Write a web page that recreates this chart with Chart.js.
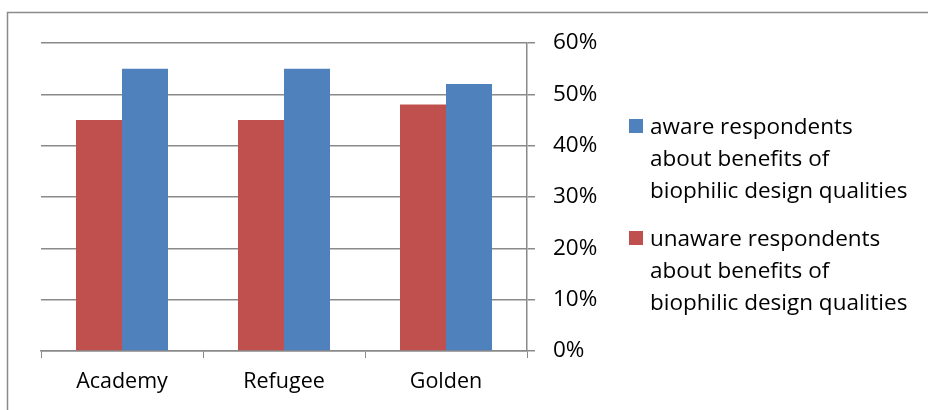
<!DOCTYPE html>
<html>
<head>
<meta charset="utf-8">
<script src="https://cdn.jsdelivr.net/npm/chart.js@4/dist/chart.umd.min.js"></script>
<style>
    html, body { margin: 0; padding: 0; background: #fff; }
    #wrap { width: 928px; height: 410px; }
</style>
</head>
<body>
<div id="wrap"><canvas id="awareChart" width="928" height="410"></canvas></div>
<script>
// DATA
const categories = ["Academy", "Refugee", "Golden"];
const unawareValues = [45, 45, 48];
const awareValues = [55, 55, 52];
const yTickValues = [0, 10, 20, 30, 40, 50, 60];

const awareLabel = ["aware respondents", "about benefits of", "biophilic design qualities"];
const unawareLabel = ["unaware respondents", "about benefits of", "biophilic design qualities"];

const FONT = "'Open Sans', sans-serif";

// outer frame, like the office chart box
const framePlugin = {
    id: "frame",
    beforeDraw(chart) {
        let ctx = chart.ctx;
        ctx.save();
        ctx.strokeStyle = "#8a8a8a";
        ctx.lineWidth = 1.5;
        ctx.strokeRect(7.5, 12.5, 1000, 1000);
        ctx.restore();
    }
};

// legend with wrapped lines (aware first, like the original)
const wrapLegend = {
    id: "wrapLegend",
    afterDraw(chart) {
        let ctx = chart.ctx;
        let items = chart.data.datasets.slice().reverse();
        let startY = [134, 246];
        ctx.save();
        ctx.font = "22.5px " + FONT;
        ctx.textBaseline = "alphabetic";
        items.forEach((ds, i) => {
            let y = startY[i];
            ctx.fillStyle = ds.backgroundColor;
            ctx.fillRect(629, y - 15, 14, 14);
            ctx.fillStyle = "#000";
            ds.lines.forEach((line, j) => {
                ctx.fillText(line, 650, y + j * 32);
            });
        });
        ctx.restore();
    }
};

new Chart(document.getElementById("awareChart"), {
    type: "bar",
    data: {
        labels: categories,
        datasets: [
            {
                label: unawareLabel.join(" "),
                lines: unawareLabel,
                data: unawareValues,
                backgroundColor: "#C0504D",
                barPercentage: 1,
                categoryPercentage: 0.568
            },
            {
                label: awareLabel.join(" "),
                lines: awareLabel,
                data: awareValues,
                backgroundColor: "#4F81BD",
                barPercentage: 1,
                categoryPercentage: 0.568
            }
        ]
    },
    options: {
        responsive: false,
        animation: false,
        layout: { padding: { left: 41, top: 43, right: 301, bottom: 14 } },
        plugins: {
            legend: { display: false },
            tooltip: { enabled: false }
        },
        scales: {
            x: {
                grid: {
                    offset: true,
                    drawOnChartArea: false,
                    drawTicks: true,
                    tickLength: 7,
                    color: "#8a8a8a"
                },
                border: { color: "#8a8a8a", width: 1.5 },
                ticks: {
                    color: "#000",
                    font: { family: FONT, size: 21.5 },
                    padding: 11
                },
                afterFit: s => { s.height = 45; }
            },
            y: {
                position: "right",
                min: 0,
                max: 60,
                afterBuildTicks: s => { s.ticks = yTickValues.map(v => ({ value: v })); },
                grid: {
                    color: "#8a8a8a",
                    lineWidth: 1.5,
                    tickLength: 8
                },
                border: { color: "#8a8a8a", width: 1.5 },
                ticks: {
                    color: "#000",
                    font: { family: FONT, size: 22.5 },
                    padding: 18,
                    callback: v => v + "%"
                },
                afterFit: s => { s.width = 100; }
            }
        }
    },
    plugins: [framePlugin, wrapLegend]
});
</script>
</body>
</html>
